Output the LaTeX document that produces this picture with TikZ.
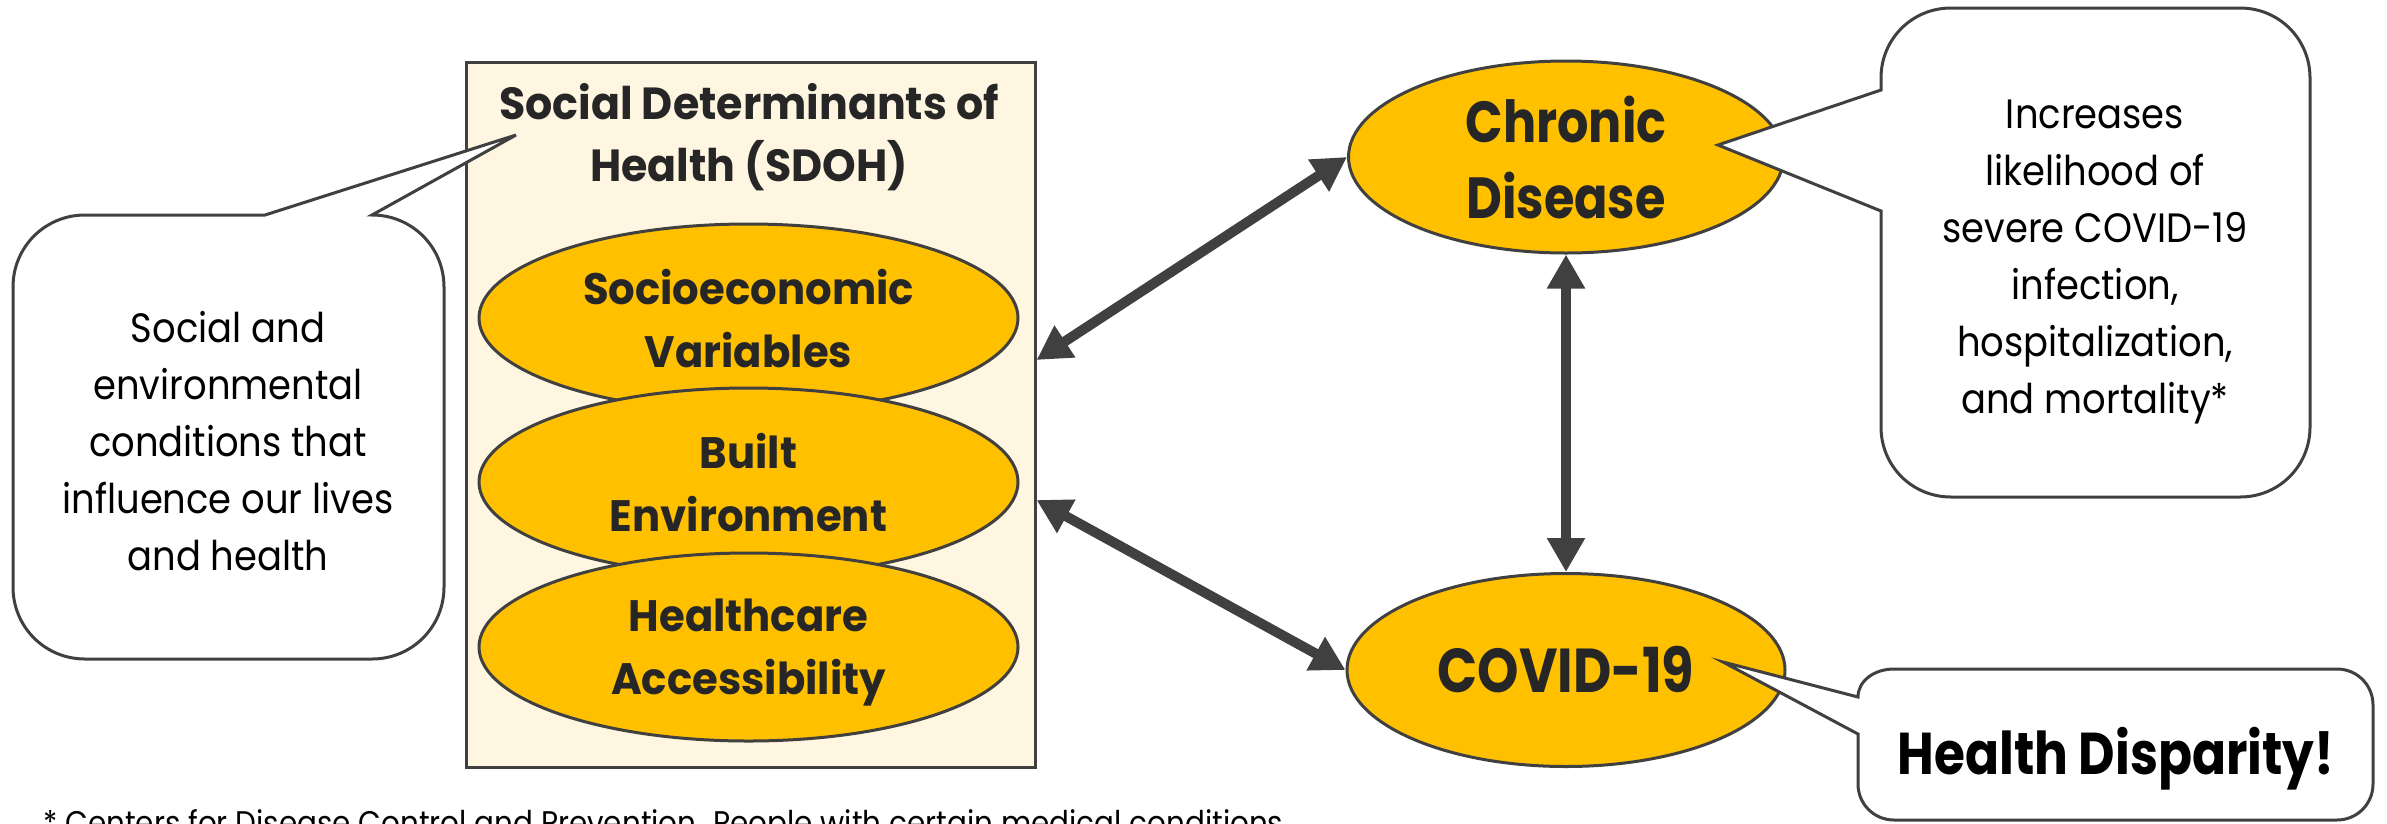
\documentclass[tikz,border=0pt]{standalone}
\usepackage{fontspec}
\setmainfont{Poppins}
\newfontfamily\calfont[FakeStretch=0.9]{Poppins}
\newfontfamily\headfont[FakeStretch=0.95]{Poppins}
\newfontfamily\futbold[FakeStretch=0.85]{Poppins}
\usetikzlibrary{arrows.meta,shapes.geometric}
\definecolor{ink}{HTML}{404040}
\definecolor{gold}{HTML}{FFC000}
\definecolor{cream}{HTML}{FEF6E0}
\definecolor{txt}{HTML}{262626}
\begin{document}
\begin{tikzpicture}[x=1pt,y=-1pt,
  sdohell/.style={ellipse, draw=ink, line width=3pt, fill=gold, minimum width=539pt, minimum height=188pt, inner sep=0pt, align=center, text=txt, text depth=0pt, font=\headfont\bfseries\fontsize{44}{63}\selectfont},
  bigell/.style={ellipse, draw=ink, line width=3pt, fill=gold, minimum width=436pt, minimum height=193pt, inner sep=0pt, align=center, text=txt, font=\futbold\bfseries\fontsize{58}{76}\selectfont},
  callout/.style={draw=ink, line width=3pt, fill=white, line join=miter},
  caltext/.style={align=center, text=black, font=\calfont\fontsize{41}{57}\selectfont},
  link/.style={draw=ink, line width=10pt, {Triangle[length=34pt,width=36pt]}-{Triangle[length=34pt,width=36pt]}}
]
\useasboundingbox (0,0) rectangle (2387,823);
\clip (0,0) rectangle (2387,823);

% SDOH box
\node[draw=ink, line width=3pt, fill=cream, minimum width=569pt, minimum height=705pt, inner sep=0pt] (box) at (750.5,414.5) {};
\node[align=center, text=txt, font=\headfont\bfseries\fontsize{45}{62}\selectfont] (title) at (749,137) {Social Determinants of\\Health (SDOH)};

\node[sdohell] (se) at (748.5,318) {Socioeconomic\\Variables};
\node[sdohell] (be) at (748.5,482) {Built\\Environment};
\node[sdohell] (ha) at (748.5,647) {Healthcare\\Accessibility};

% right ellipses
\node[bigell, minimum width=435pt, minimum height=192pt] (cd) at (1566,157) {Chronic\\Disease};
\node[bigell, minimum width=438pt, minimum height=193pt, font=\futbold\bfseries\fontsize{62}{76}\selectfont] (cv) at (1566,670) {COVID-19};

% connectors
\draw[link] ([yshift=54.5pt]box.east) -- (cd.west);
\draw[link] ([yshift=-85.5pt]box.east) -- (cv.west);
\draw[link] (cd.south) -- (cv.north);

% left callout
\draw[callout] (265,215) -- (516,135) -- (372,215)
  .. controls (412,215) and (444,247) .. (444,287)
  -- (444,587) .. controls (444,627) and (412,659) .. (372,659)
  -- (85,659) .. controls (45,659) and (13,627) .. (13,587)
  -- (13,287) .. controls (13,247) and (45,215) .. (85,215)
  -- cycle;
\node[caltext] (lt) at (228,441) {Social and\\environmental\\conditions that\\influence our lives\\and health};

% right callout
\draw[callout] (1881,211) -- (1718,145) -- (1881,90) -- (1881,78)
  .. controls (1881,39) and (1912,8) .. (1951,8)
  -- (2240,8) .. controls (2279,8) and (2310,39) .. (2310,78)
  -- (2310,427) .. controls (2310,466) and (2279,497) .. (2240,497)
  -- (1951,497) .. controls (1912,497) and (1881,466) .. (1881,427)
  -- cycle;
\node[caltext] (rt) at (2095,262) {Increases\\likelihood of\\severe COVID-19\\infection,\\hospitalization,\\and mortality*};

% health disparity callout
\draw[callout] (1858,734) -- (1723,662) -- (1858,697)
  .. controls (1858,681) and (1874,669) .. (1894,669)
  -- (2337,669) .. controls (2357,669) and (2373,685) .. (2373,705)
  -- (2373,784) .. controls (2373,804) and (2357,820) .. (2337,820)
  -- (1894,820) .. controls (1874,820) and (1858,804) .. (1858,784)
  -- cycle;
\node[text=black, font=\futbold\bfseries\fontsize{59}{62}\selectfont] (hd) at (2116,759) {Health Disparity!};

% footnote
\node[anchor=base west, inner sep=0pt, text=black, font=\calfont\fontsize{32.7}{40}\selectfont] (fn) at (43,834) {* Centers for Disease Control and Prevention. People with certain medical conditions};
\end{tikzpicture}
\end{document}
